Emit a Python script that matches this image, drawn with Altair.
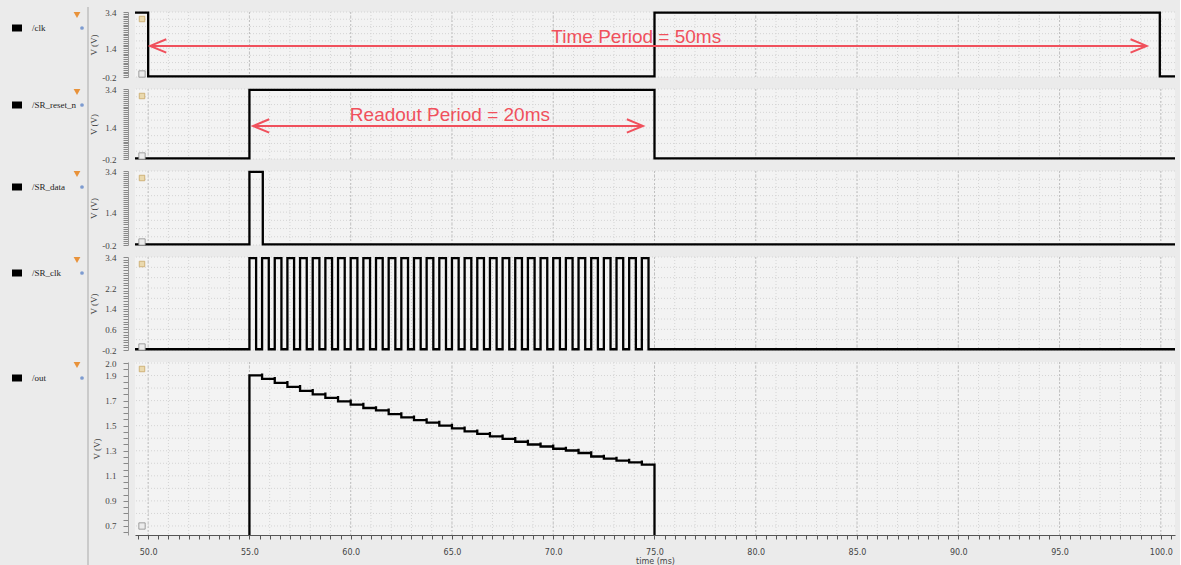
import altair as alt
import pandas as pd

# ---------------- data ----------------
X_MIN, X_MAX = 49.35, 100.7          # visible time window (ms)
HIGH, LOW = 3.36, -0.17              # logic levels (V)
OUT_OFF = 0.55                       # /out level outside the readout (below the view)
SPIKE = 0.015                        # small overshoot at every /out step

signal_names = ["/clk", "/SR_reset_n", "/SR_data", "/SR_clk", "/out"]

clk_edges = [50.0, 75.0, 99.95]      # starts high
reset_edges = [55.0, 75.0]           # starts low
data_edges = [55.0, 55.66]           # starts low

srclk_rise = [55.0, 55.625, 56.25, 56.875, 57.5, 58.125, 58.75, 59.375,
              60.0, 60.625, 61.25, 61.875, 62.5, 63.125, 63.75, 64.375,
              65.0, 65.625, 66.25, 66.875, 67.5, 68.125, 68.75, 69.375,
              70.0, 70.625, 71.25, 71.875, 72.5, 73.125, 73.75, 74.375]
srclk_fall = [55.33, 55.955, 56.58, 57.205, 57.83, 58.455, 59.08, 59.705,
              60.33, 60.955, 61.58, 62.205, 62.83, 63.455, 64.08, 64.705,
              65.33, 65.955, 66.58, 67.205, 67.83, 68.455, 69.08, 69.705,
              70.33, 70.955, 71.58, 72.205, 72.83, 73.455, 74.08, 74.705]

out_levels = [1.902, 1.873, 1.842, 1.810, 1.778, 1.750, 1.722, 1.694,
              1.668, 1.641, 1.622, 1.593, 1.566, 1.545, 1.524, 1.500,
              1.478, 1.455, 1.434, 1.414, 1.394, 1.372, 1.350, 1.334,
              1.316, 1.302, 1.282, 1.254, 1.238, 1.222, 1.208, 1.190]
out_end = 75.0

arrow_time = {"x1": 50.1, "x2": 99.3, "y": 1.52}
text_time = {"x": 74.1, "y": 2.02, "label": "Time Period = 50ms"}
arrow_read = {"x1": 55.18, "x2": 74.43, "y": 1.50}
text_read = {"x": 64.9, "y": 2.06, "label": "Readout Period = 20ms"}

# axis tick / grid positions
x_grid = [float(v) for v in range(50, 101)]
x_grid_major = [50.0, 55.0, 60.0, 65.0, 70.0, 75.0, 80.0, 85.0, 90.0, 95.0, 100.0]
x_ticks = [49.5 + 0.5 * k for k in range(103)]
logic_minor = [round(-0.2 + 0.1 * k, 2) for k in range(37)]
logic_grid = [-0.2, 0.2, 0.6, 1.0, 1.4, 1.8, 2.2, 2.6, 3.0, 3.4]
logic_major = [-0.2, 1.4, 3.4]
srclk_major = [-0.2, 0.6, 1.4, 2.2, 3.4]
out_minor = [round(0.65 + 0.05 * k, 2) for k in range(28)]
out_grid = [round(0.7 + 0.1 * k, 1) for k in range(14)]
out_major = [0.7, 0.9, 1.1, 1.3, 1.5, 1.7, 1.9, 2.0]

RED = "#f0505c"
SERIF = "Liberation Serif"
SANS = "DejaVu Sans"
W = 1040


def digital(edges, start_high):
    lvl = HIGH if start_high else LOW
    pts = [(X_MIN, lvl)]
    for e in edges:
        pts.append((e, lvl))
        lvl = LOW if lvl == HIGH else HIGH
        pts.append((e, lvl))
    pts.append((X_MAX, lvl))
    return pts


def out_points():
    pts = [(X_MIN, OUT_OFF), (srclk_rise[0], OUT_OFF), (srclk_rise[0], out_levels[0])]
    for k in range(1, len(out_levels)):
        t = srclk_rise[k]
        pts.append((t, out_levels[k - 1]))
        pts.append((t, out_levels[k - 1] + SPIKE))
        pts.append((t, out_levels[k]))
    pts += [(out_end, out_levels[-1]), (out_end, OUT_OFF), (X_MAX, OUT_OFF)]
    return pts


def label_expr(majors):
    cond = " || ".join(f"abs(datum.value - ({v})) < 0.001" for v in majors)
    return f"({cond}) ? ((datum.value < 0 ? '-' : '') + format(abs(datum.value), '.1f')) : ''"


def panel(points, name, ydom, yminor, ymajor, ygrid, h, bottom=False, clip=False,
          notes=None, first=False):
    df = pd.DataFrame(points, columns=["t", "v"])
    df["i"] = range(len(df))
    xs = alt.Scale(domain=[X_MIN, X_MAX], nice=False, zero=False)
    ys = alt.Scale(domain=ydom, nice=False, zero=False)

    yaxis = alt.Axis(
        values=yminor, labelExpr=label_expr(ymajor), labelOverlap=False,
        title="V (V)", titleFont=SERIF, titleFontSize=9, titleFontWeight="normal",
        titleColor="#444", titlePadding=3, labelFont=SERIF, labelFontSize=9,
        labelColor="#444", labelPadding=7, tickSize=5, tickColor="#888",
        domainColor="#999", offset=7, grid=False, orient="left",
    )
    if bottom:
        xaxis = alt.Axis(
            values=x_ticks,
            labelExpr="datum.value % 5 == 0 ? format(datum.value, '.1f') : ''",
            labelOverlap=False, labelFlush=False, title="time (ms)",
            titleFont=SANS, titleFontSize=8, titleFontWeight="normal", titleColor="#444",
            titlePadding=1, labelFont=SANS, labelFontSize=8, labelColor="#444",
            labelPadding=9, tickSize=4, tickColor="#555", domainColor="#555", grid=False,
            orient="bottom",
        )
    else:
        xaxis = None

    def X(f):
        return alt.X(f, scale=xs, axis=xaxis)

    def Y(f):
        return alt.Y(f, scale=ys, axis=yaxis)

    vgrid = alt.Chart(pd.DataFrame({"t": x_grid})).mark_rule(
        strokeDash=[1, 2], strokeWidth=1, color="#d4d4d4"
    ).encode(x=X("t:Q"))
    vgrid_major = alt.Chart(pd.DataFrame({"t": x_grid_major})).mark_rule(
        strokeDash=[2, 2], strokeWidth=1, color="#c0c0c0"
    ).encode(x=X("t:Q"))
    hgrid = alt.Chart(pd.DataFrame({"v": ygrid})).mark_rule(
        strokeDash=[1, 2], strokeWidth=1, color="#d4d4d4"
    ).encode(y=Y("v:Q"))

    line = alt.Chart(df).mark_line(color="black", strokeWidth=2.3, clip=clip).encode(
        x=X("t:Q"), y=Y("v:Q"), order=alt.Order("i:Q"),
    )

    one = pd.DataFrame({"s": [name]})
    name_txt = alt.Chart(one).mark_text(
        align="left", baseline="middle", font=SERIF, fontSize=9, color="#222"
    ).encode(text="s:N", x=alt.value(-103), y=alt.value(16))
    square = alt.Chart(one).mark_rect(color="black").encode(
        x=alt.value(-123), x2=alt.value(-113), y=alt.value(12.5), y2=alt.value(19.5))
    funnel = alt.Chart(one).mark_point(
        shape="triangle-down", filled=True, color="#e8923a", size=45, opacity=1
    ).encode(x=alt.value(-58), y=alt.value(3))
    eye = alt.Chart(one).mark_point(
        shape="circle", filled=True, color="#7d9bd0", size=14, opacity=1
    ).encode(x=alt.value(-53), y=alt.value(16))
    sep = alt.Chart(one).mark_rule(color="#a9a9a9", strokeWidth=1).encode(
        x=alt.value(-47), y=alt.value(-5 if first else -12),
        y2=alt.value(h + (30 if bottom else 0)))
    lock = alt.Chart(one).mark_point(
        shape="square", filled=True, color="#ead9ae", stroke="#c9a767",
        strokeWidth=0.8, size=30, opacity=1
    ).encode(x=alt.value(7), y=alt.value(7))
    play = alt.Chart(one).mark_point(
        shape="square", filled=True, color="#ececec", stroke="#8a8a8a",
        strokeWidth=0.8, size=40, opacity=1
    ).encode(x=alt.value(7), y=alt.value(h - (9 if bottom else 3)))

    layers = [vgrid, vgrid_major, hgrid, line, name_txt, square, funnel, eye, sep, lock, play]

    if notes is not None:
        arrow, text = notes
        adf = pd.DataFrame([arrow])
        rule = alt.Chart(adf).mark_rule(color=RED, strokeWidth=2).encode(
            x=X("x1:Q"), x2="x2:Q", y=Y("y:Q"))
        head_l = alt.Chart(adf).mark_point(
            shape="M2.4,-1L0,0L2.4,1", filled=False, color=RED, strokeWidth=2,
            size=180, opacity=1
        ).encode(x=X("x1:Q"), y=Y("y:Q"))
        head_r = alt.Chart(adf).mark_point(
            shape="M-2.4,-1L0,0L-2.4,1", filled=False, color=RED, strokeWidth=2,
            size=180, opacity=1
        ).encode(x=X("x2:Q"), y=Y("y:Q"))
        tdf = pd.DataFrame([text])
        label = alt.Chart(tdf).mark_text(
            color=RED, font="Liberation Sans", fontSize=19, align="center", baseline="middle"
        ).encode(x=X("x:Q"), y=Y("y:Q"), text="label:N")
        layers += [rule, head_l, head_r, label]

    return alt.layer(*layers).properties(width=W, height=h)


clk_srclk_edges = sorted(srclk_rise + srclk_fall)

p1 = panel(digital(clk_edges, True), signal_names[0], [-0.2, 3.4], logic_minor, logic_major,
           logic_grid, 65, notes=(arrow_time, text_time), first=True)
p2 = panel(digital(reset_edges, False), signal_names[1], [-0.2, 3.4], logic_minor, logic_major,
           logic_grid, 70, notes=(arrow_read, text_read))
p3 = panel(digital(data_edges, False), signal_names[2], [-0.2, 3.4], logic_minor, logic_major,
           logic_grid, 74)
p4 = panel(digital(clk_srclk_edges, False), signal_names[3], [-0.2, 3.4], logic_minor,
           srclk_major, logic_grid, 93)
p5 = panel(out_points(), signal_names[4], [0.628, 2.008], out_minor, out_major, out_grid,
           173, bottom=True, clip=True)

chart = alt.vconcat(p1, p2, p3, p4, p5, spacing=12, bounds="flush").properties(
    padding={"left": 12, "top": 6, "right": 0, "bottom": 0},
    background="#ebebeb",
).configure_view(fill="#f3f3f3", strokeWidth=0)

chart.save("out.html", embed_options={"renderer": "svg", "actions": False})
